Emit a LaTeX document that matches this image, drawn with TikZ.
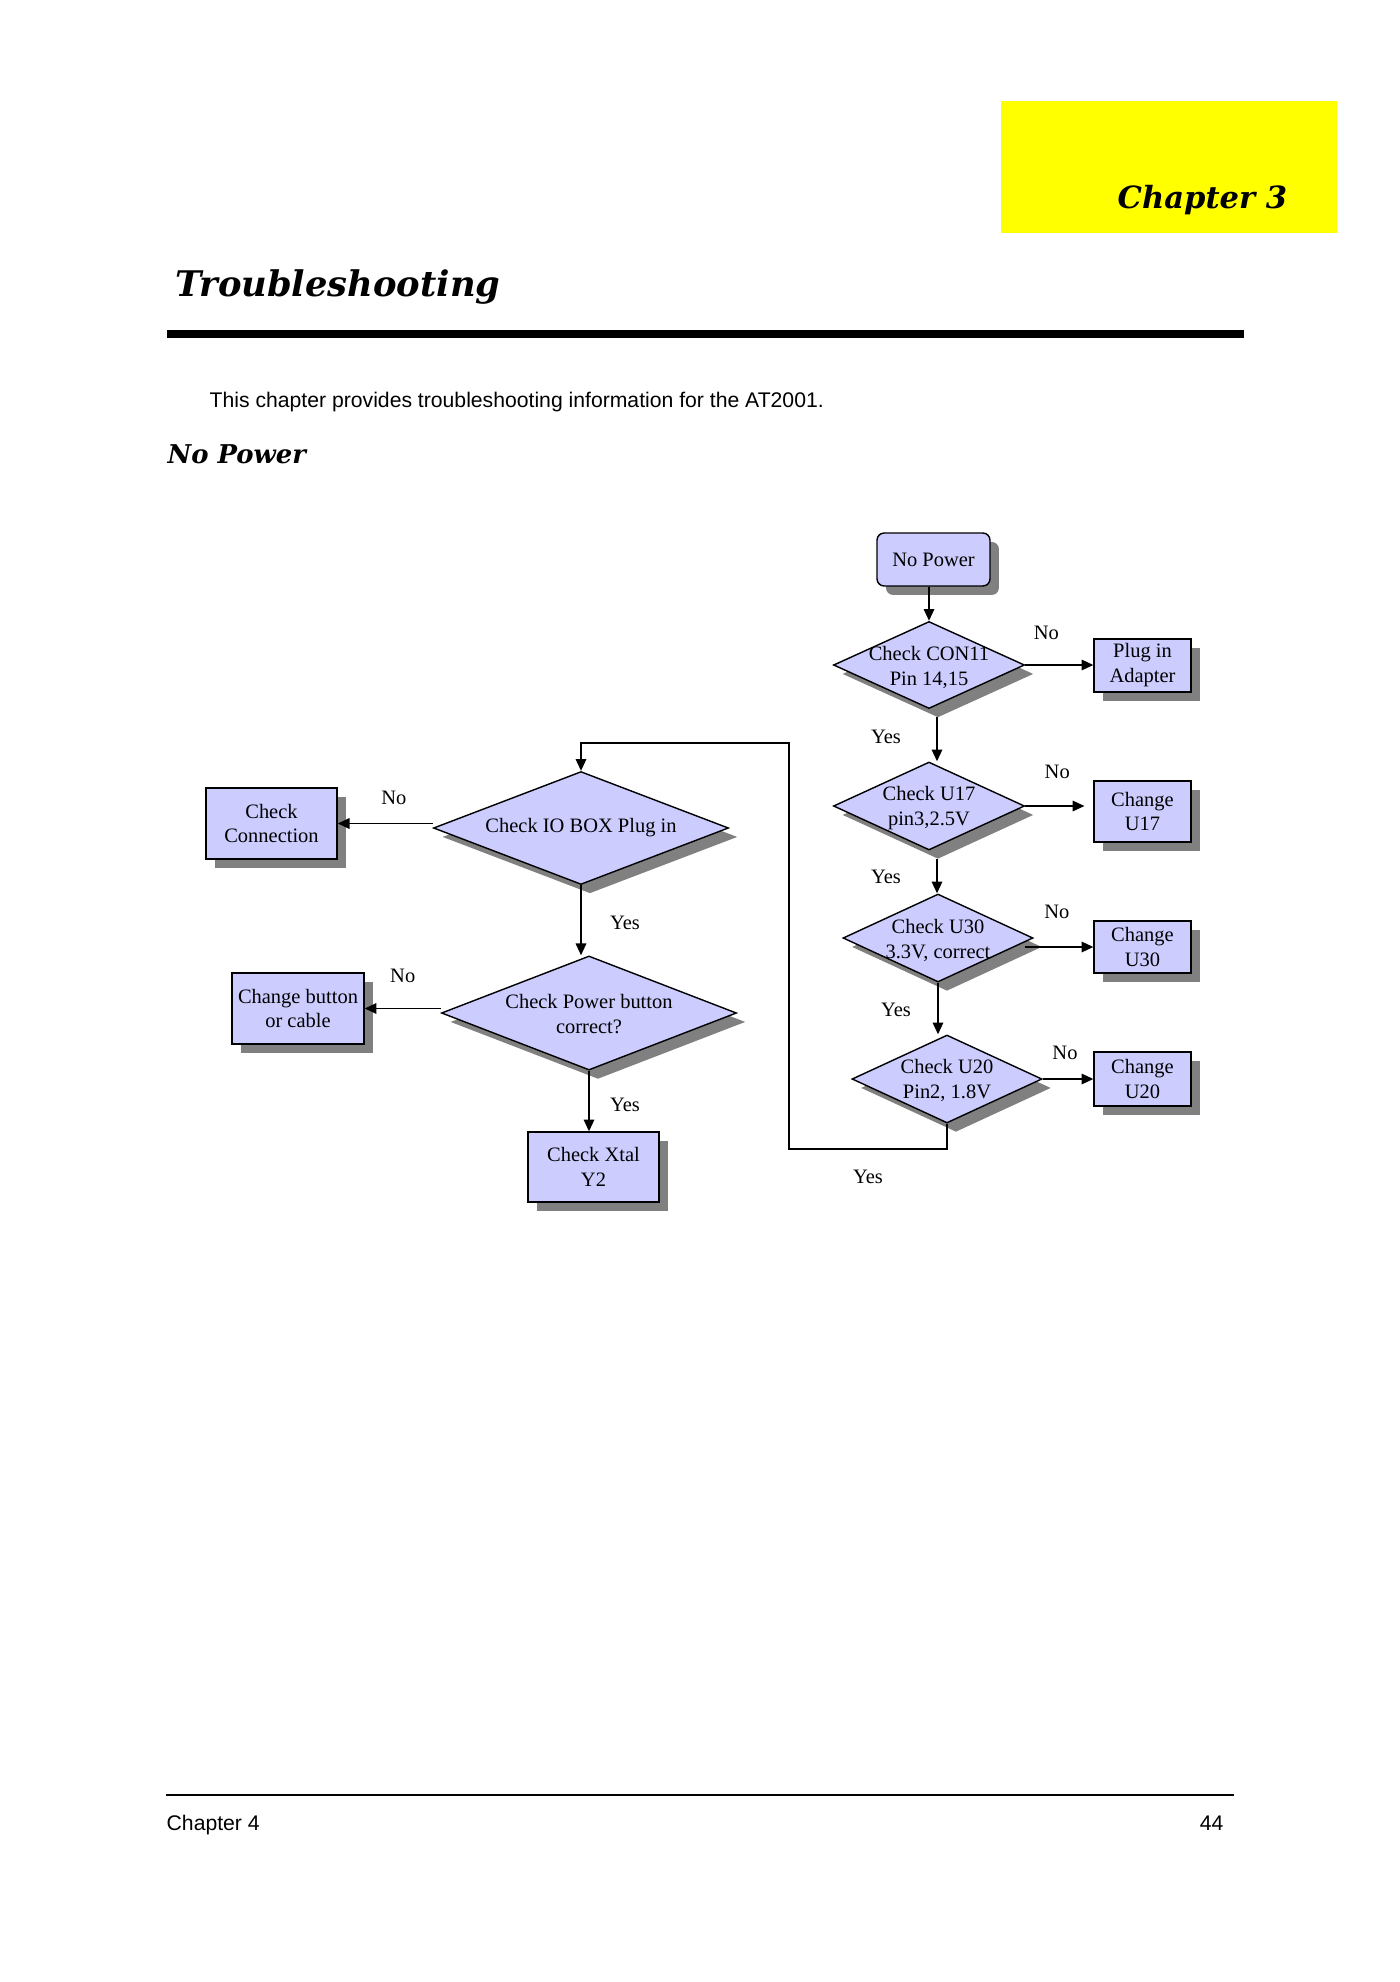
\documentclass[tikz,border=0pt]{standalone}
\usepackage{fontspec}
\setmainfont{Liberation Serif}
\newfontfamily\headfont{DejaVu Serif}
\newfontfamily\bodyfont{Liberation Sans}
\usetikzlibrary{shapes.geometric,shadows,calc,arrows.meta}

\definecolor{boxfill}{RGB}{204,204,255}
\definecolor{shadowgray}{RGB}{128,128,128}
\definecolor{chapyellow}{RGB}{255,255,0}

\begin{document}
\begin{tikzpicture}[x=0.425pt,y=-0.425pt,->,>={Triangle[length=5pt,width=4.5pt]},semithick,
		font=\fontsize{8.7}{10.6}\selectfont,
		boxshadow/.style={drop shadow={shadow xshift=3.8pt,shadow yshift=-3.8pt,fill=shadowgray,opacity=1}},
		process/.style={rectangle,draw,fill=boxfill,align=center,inner sep=0pt,boxshadow},
		decision/.style={diamond,draw,fill=boxfill,inner sep=0pt,boxshadow},
		dtext/.style={align=center,inner sep=0pt},
		lbl/.style={inner sep=0pt},
		head/.style={anchor=base west,inner sep=0pt},
		body/.style={anchor=base west,inner sep=0pt,font=\bodyfont\fontsize{9}{11}\selectfont}]

		\useasboundingbox (0,0) rectangle (1400,1982);

		% page head
		\fill[chapyellow] (1001,101) rectangle (1337,233);
		\node[head,font=\headfont\bfseries\itshape\fontsize{13}{16}\selectfont] (chap) at (1117,208) {Chapter 3};
		\node[head,font=\headfont\bfseries\itshape\fontsize{15}{18}\selectfont] (title) at (175,296) {Troubleshooting};
		\fill (167,330) rectangle (1244,338);
		\node[body] (intro) at (209,407) {This chapter provides troubleshooting information for the AT2001.};
		\node[head,font=\headfont\bfseries\itshape\fontsize{11}{13}\selectfont] (sect) at (167,463) {No Power};

		% right column
		\node[process,rounded corners=3pt,minimum width=48pt,minimum height=22.5pt] (nopower) at (933.5,559.5) {No Power};
		\node[decision,minimum width=81.2pt,minimum height=37pt] (con11) at (929,665) {};
		\node[dtext] (con11t) at ($(con11)+(0,2)$) {Check CON11\\Pin 14,15};
		\node[process,minimum width=41.2pt,minimum height=22.5pt] (plug) at (1142.5,665.5) {Plug in\\Adapter};
		\node[decision,minimum width=81.2pt,minimum height=37.4pt] (u17) at (929,806) {};
		\node[dtext] (u17t) at ($(u17)+(0,2)$) {Check U17\\pin3,2.5V};
		\node[process,minimum width=41.2pt,minimum height=25.9pt] (chu17) at (1142.5,811.5) {Change\\U17};
		\node[decision,minimum width=80.75pt,minimum height=37.4pt] (u30) at (938,938) {};
		\node[dtext] (u30t) at ($(u30)+(0,2)$) {Check U30\\3.3V, correct};
		\node[process,minimum width=41.2pt,minimum height=22.1pt] (chu30) at (1142.5,947) {Change\\U30};
		\node[decision,minimum width=80.75pt,minimum height=37.4pt] (u20) at (947,1079) {};
		\node[dtext] (u20t) at ($(u20)+(0,1)$) {Check U20\\Pin2, 1.8V};
		\node[process,minimum width=41.2pt,minimum height=23pt] (chu20) at (1142.5,1079) {Change\\U20};

		% left column
		\node[decision,minimum width=125.4pt,minimum height=48pt] (iobox) at (581,828) {};
		\node[dtext] (ioboxt) at (iobox) {Check IO BOX Plug in};
		\node[process,minimum width=55.7pt,minimum height=30.2pt] (conn) at (271.5,823.5) {Check\\Connection};
		\node[decision,minimum width=125.4pt,minimum height=48.5pt] (pwrbtn) at (589,1013) {};
		\node[dtext] (pwrbtnt) at ($(pwrbtn)+(0,1)$) {Check Power button\\correct?};
		\node[process,minimum width=56.1pt,minimum height=30.2pt] (button) at (298,1008.5) {Change button\\or cable};
		\node[process,minimum width=55.7pt,minimum height=29.75pt] (xtal) at (593.5,1167) {Check Xtal\\Y2};

		\coordinate (y1) at ($(con11.south)+(8,8)$);
		\coordinate (y2) at ($(u17.south)+(8,8)$);
		\coordinate (n3) at ($(u30.east)+(-9,9)$);
		\coordinate (loopL) at (789,1149);
		\coordinate (loopT) at ($(iobox.north)+(0,-28)$);

		\draw (nopower.south -| con11.north) -- (con11.north);
		\draw (con11.east) -- node[lbl,pos=.31,shift={(0,-32)}] {No} (con11.east -| plug.west);
		\draw (y1) -- node[lbl,pos=.44,shift={(-51,0)}] {Yes} (y1 |- u17.north);
		\draw[shorten >=3.8pt] (u17.east) -- node[lbl,pos=.47,shift={(0,-34)}] {No} (u17.east -| chu17.west);
		\draw (y2) -- node[lbl,pos=.53,shift={(-51,0)}] {Yes} (y2 |- u30.north);
		\draw (n3) -- node[lbl,pos=.47,shift={(0,-35)}] {No} (n3 -| chu30.west);
		\draw (u30.south) -- node[lbl,pos=.52,shift={(-42,0)}] {Yes} (u30.south |- u20.north);
		\draw (u20.east) -- node[lbl,pos=.44,shift={(0,-26)}] {No} (u20.east -| chu20.west);
		\draw (u20.south) |- node[lbl,pos=.75,shift={(0,28)}] {Yes} (loopL) |- (loopT) -- (iobox.north);
		\draw (conn.east -| iobox.west) -- node[lbl,pos=.41,shift={(0,-26)}] {No} (conn.east);
		\draw (iobox.south) -- node[lbl,pos=.54,shift={(44,0)}] {Yes} (iobox.south |- pwrbtn.north);
		\draw (button.east -| pwrbtn.west) -- node[lbl,pos=.5,shift={(0,-33)}] {No} (button.east);
		\draw (pwrbtn.south) -- node[lbl,pos=.56,shift={(36,0)}] {Yes} (pwrbtn.south |- xtal.north);

		% page foot
		\draw[-] (166,1795) -- (1234,1795);
		\node[body] (foot) at (166,1830) {Chapter 4};
		\node[body,anchor=base east] (page) at (1224,1830) {44};
	\end{tikzpicture}
\end{document}
